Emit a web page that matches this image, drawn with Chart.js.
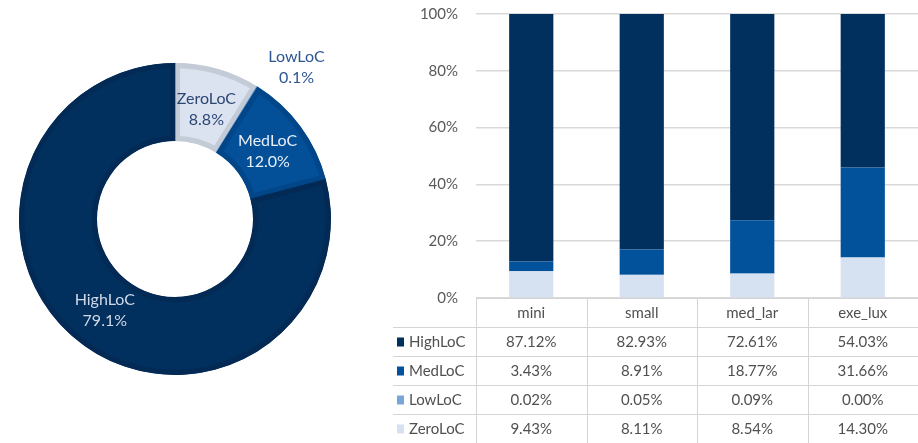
<!DOCTYPE html>
<html>
<head>
<meta charset="utf-8">
<script src="https://cdn.jsdelivr.net/npm/chart.js@4/dist/chart.umd.min.js"></script>
<style>
  html, body { margin: 0; padding: 0; background: #ffffff; }
  body { width: 918px; height: 443px; position: relative; overflow: hidden; }
  #pie { position: absolute; left: 0; top: 0; }
  #bars { position: absolute; left: 380px; top: 0; }
</style>
</head>
<body>
<canvas id="pie" width="348" height="443"></canvas>
<canvas id="bars" width="538" height="443"></canvas>
<script>
// Overall share of each LoC class (ring, clockwise from the top)
const ringLabels = ['ZeroLoC', 'LowLoC', 'MedLoC', 'HighLoC'];
const ringValues = [8.8, 0.1, 12.0, 79.1];

// Share per size class (stacked bars + data table)
const sizeClasses = ['mini', 'small', 'med_lar', 'exe_lux'];
const highLoC = [87.12, 82.93, 72.61, 54.03];
const medLoC  = [3.43, 8.91, 18.77, 31.66];
const lowLoC  = [0.02, 0.05, 0.09, 0.00];
const zeroLoC = [9.43, 8.11, 8.54, 14.30];
const yTicks  = [0, 20, 40, 60, 80, 100];

const FONT = 'Lato, "Open Sans", "Liberation Sans", sans-serif';

const colors = {
  HighLoC: '#01305f',
  MedLoC:  '#02519b',
  LowLoC:  '#7aa5dc',
  ZeroLoC: '#d6e1f1'
};

// ---------- ring chart ----------
const ringFill   = { ZeroLoC: '#dce3f0', LowLoC: '#7aa5dc', MedLoC: '#034f98', HighLoC: '#01305f' };
const ringBorder = { ZeroLoC: '#c3cbd6', LowLoC: '#6a94c8', MedLoC: '#02468a', HighLoC: '#022a55' };
const ringText   = { ZeroLoC: '#2c4674', LowLoC: '#2d5693', MedLoC: '#e8eef7', HighLoC: '#cfd8e6' };

const ringLabelPlugin = {
  id: 'ringLabels',
  afterDatasetsDraw(chart) {
    const ctx = chart.ctx;
    const meta = chart.getDatasetMeta(0);
    ctx.save();
    ctx.font = '16px ' + FONT;
    ctx.textAlign = 'center';
    ctx.textBaseline = 'middle';
    meta.data.forEach((arc, i) => {
      const name = ringLabels[i];
      const mid = (arc.startAngle + arc.endAngle) / 2;
      const small = ringValues[i] < 1;
      const r = small ? arc.outerRadius + 40 : (arc.innerRadius + arc.outerRadius) / 2 - 2;
      let x = arc.x + Math.cos(mid) * r;
      let y = arc.y + Math.sin(mid) * r;
      if (small) { x += 18; y += 14; }
      ctx.fillStyle = ringText[name];
      ctx.fillText(name, x, y - 10);
      ctx.fillText(ringValues[i].toFixed(1) + '%', x, y + 11);
    });
    ctx.restore();
  }
};

new Chart(document.getElementById('pie'), {
  type: 'doughnut',
  data: {
    labels: ringLabels,
    datasets: [{
      data: ringValues,
      backgroundColor: ringLabels.map(n => ringFill[n]),
      borderColor: ringLabels.map(n => ringBorder[n]),
      borderWidth: 5,
      borderAlign: 'inner'
    }]
  },
  options: {
    responsive: false,
    animation: false,
    cutout: '50%',
    layout: { padding: { top: 63, bottom: 68, left: 17, right: 15 } },
    plugins: { legend: { display: false }, tooltip: { enabled: false } }
  },
  plugins: [ringLabelPlugin]
});

// ---------- stacked bars with data table ----------
const tableRows = [
  { name: 'HighLoC', values: highLoC },
  { name: 'MedLoC',  values: medLoC },
  { name: 'LowLoC',  values: lowLoC },
  { name: 'ZeroLoC', values: zeroLoC }
];

const dataTablePlugin = {
  id: 'dataTable',
  afterDraw(chart) {
    const ctx = chart.ctx;
    const area = chart.chartArea;
    const x = chart.scales.x;
    const rowH = 29;
    const top = area.bottom;
    const tableLeft = 13;
    const right = area.right;
    const colW = (area.right - area.left) / sizeClasses.length;
    ctx.save();
    ctx.strokeStyle = '#d4d4d4';
    ctx.lineWidth = 1;
    // horizontal rules
    ctx.beginPath();
    ctx.moveTo(area.left, top + 0.5);
    ctx.lineTo(right, top + 0.5);
    for (let r = 1; r <= tableRows.length + 1; r++) {
      const yy = Math.round(top + r * rowH) + 0.5;
      ctx.moveTo(tableLeft, yy);
      ctx.lineTo(right, yy);
    }
    // vertical rules between columns
    for (let c = 0; c <= sizeClasses.length; c++) {
      const xx = Math.round(area.left + c * colW) + 0.5;
      ctx.moveTo(xx, top);
      ctx.lineTo(xx, top + rowH * (tableRows.length + 1));
    }
    ctx.stroke();

    ctx.font = '15px ' + FONT;
    ctx.textBaseline = 'middle';
    ctx.fillStyle = '#505050';
    ctx.textAlign = 'center';
    sizeClasses.forEach((c, i) => {
      ctx.fillText(c, x.getPixelForValue(i), top + rowH / 2 + 1);
    });
    tableRows.forEach((row, r) => {
      const cy = top + rowH * (r + 1) + rowH / 2 + 1;
      ctx.fillStyle = colors[row.name];
      ctx.fillRect(tableLeft + 4, cy - 5, 7, 9);
      ctx.fillStyle = '#505050';
      ctx.textAlign = 'left';
      ctx.fillText(row.name, tableLeft + 16, cy);
      ctx.textAlign = 'center';
      row.values.forEach((v, i) => {
        ctx.fillText(v.toFixed(2) + '%', x.getPixelForValue(i), cy);
      });
    });
    ctx.restore();
  }
};

const stackOrder = [
  { name: 'ZeroLoC', values: zeroLoC },
  { name: 'LowLoC',  values: lowLoC },
  { name: 'MedLoC',  values: medLoC },
  { name: 'HighLoC', values: highLoC }
];

new Chart(document.getElementById('bars'), {
  type: 'bar',
  data: {
    labels: sizeClasses,
    datasets: stackOrder.map(s => ({
      label: s.name,
      data: s.values,
      backgroundColor: colors[s.name],
      borderWidth: 0,
      barPercentage: 0.4,
      categoryPercentage: 1.0
    }))
  },
  options: {
    responsive: false,
    animation: false,
    layout: { padding: { top: 14, bottom: 145, left: 0, right: 0 } },
    plugins: { legend: { display: false }, tooltip: { enabled: false } },
    scales: {
      x: {
        stacked: true,
        display: false
      },
      y: {
        stacked: true,
        min: 0,
        max: 100,
        afterBuildTicks(axis) { axis.ticks = yTicks.map(v => ({ value: v })); },
        afterFit(axis) {
          axis.width = 96;
          axis.paddingTop = 0;
          axis.paddingBottom = 0;
        },
        border: { display: false },
        grid: { color: '#d9d9d9', lineWidth: 1.5, drawTicks: false },
        ticks: {
          padding: 18,
          color: '#595959',
          font: { family: FONT, size: 15 },
          callback: v => v + '%'
        }
      }
    }
  },
  plugins: [dataTablePlugin]
});
</script>
</body>
</html>
